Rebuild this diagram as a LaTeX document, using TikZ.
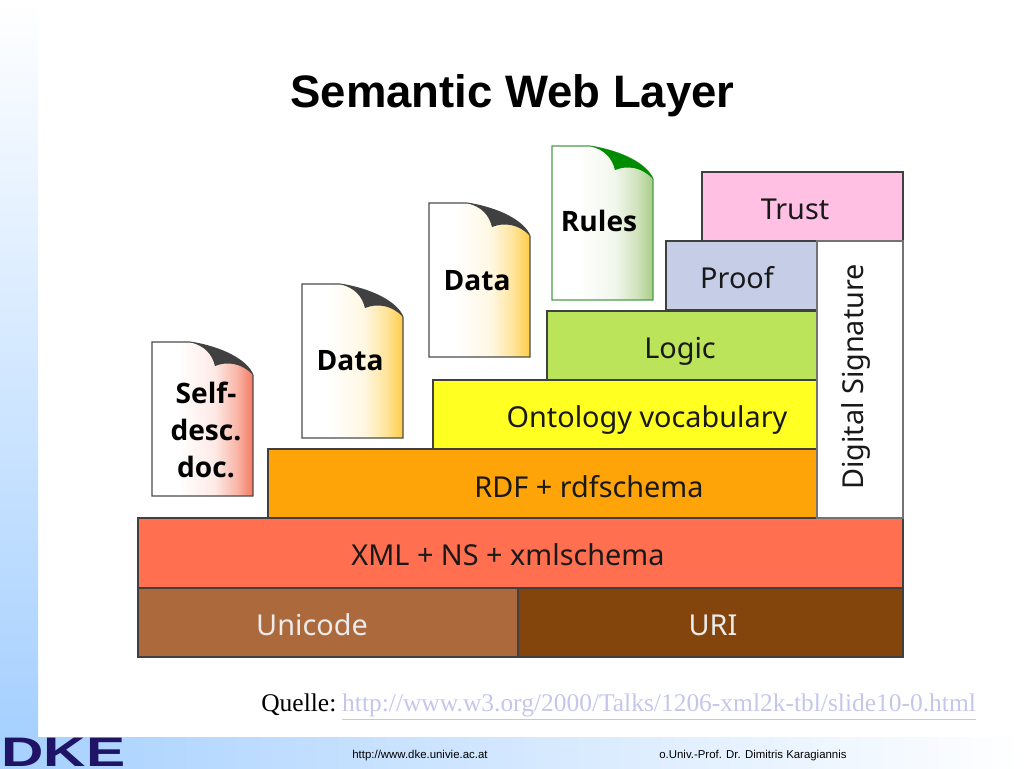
\documentclass[tikz,border=0pt]{standalone}
\usepackage{fontspec}
\usepackage{xcolor}
\usepackage{tikz}
\setmainfont{Liberation Serif}
\newfontfamily\headfont{Liberation Sans}
\newfontfamily\layerfont{Noto Sans}
\newfontfamily\docfont{Open Sans}
\usetikzlibrary{positioning}
\definecolor{stripblue}{HTML}{A6D0FF}
\definecolor{logonavy}{HTML}{1F1466}
\definecolor{linkgray}{HTML}{C6C6EC}
\definecolor{trustpink}{HTML}{FFC0E4}
\definecolor{proofblue}{HTML}{C5CEE6}
\definecolor{logicgreen}{HTML}{BBE45A}
\definecolor{ontoyellow}{HTML}{FFFF22}
\definecolor{rdforange}{HTML}{FFA408}
\definecolor{xmlred}{HTML}{FF6F50}
\definecolor{unibrown}{HTML}{AC6A3C}
\definecolor{uribrown}{HTML}{83450B}
\definecolor{selfred}{HTML}{F47A60}
\definecolor{datagold}{HTML}{FFCC44}
\definecolor{rulegreen}{HTML}{A9CC88}
\newcommand\docfade[1]{\pgfdeclarehorizontalshading{fade#1}{100bp}{color(0bp)=(white); color(38bp)=(white); color(56bp)=(#1!16); color(67bp)=(#1!55); color(75bp)=(#1); color(100bp)=(#1)}}
\docfade{selfred}
\docfade{datagold}
\docfade{rulegreen}
\tikzset{
  layerbox/.style={draw=black!75, line width=0.6pt},
  layertext/.style={font=\layerfont\fontsize{16.4}{20}\selectfont, text=black!90, inner sep=0pt, anchor=base},
  doctext/.style={font=\docfont\bfseries\fontsize{16}{21}\selectfont, align=center, inner sep=0pt},
  footertext/.style={font=\headfont\fontsize{6.5}{8}\selectfont, inner sep=0pt, anchor=west},
}
\begin{document}
\begin{tikzpicture}[x=0.02cm,y=-0.02cm]
\useasboundingbox (0,0) rectangle (1024,768);
\shade[top color=white, bottom color=stripblue] (0,0) rectangle (38,737);
\shade[left color=stripblue, right color=white] (0,737) rectangle (1024,768);
\node[font=\headfont\bfseries\fontsize{25.9}{30}\selectfont, inner sep=0pt] (title) at (512.5,96) {Semantic Web Layer};
% layers
\foreach \nam/\xa/\ya/\xb/\yb/\col/\lx/\ly/\lab in {
  trust/702/172/903/241/trustpink/795/219/Trust,
  proof/666/241/817/310/proofblue/737/288/Proof,
  logic/547/311/817/380/logicgreen/680/358/Logic,
  onto/433/380/817/449/ontoyellow/647/427/Ontology vocabulary,
  rdf/268/449/817/518/rdforange/589/497/RDF + rdfschema,
  xml/138/518/903/588/xmlred/508/565/XML + NS + xmlschema}{
  \filldraw[layerbox, fill=\col] (\xa,\ya) rectangle (\xb,\yb);
  \node[layertext] (\nam) at (\lx,\ly) {\lab};
}
\filldraw[layerbox, draw=black!55, fill=white] (817,241) rectangle (903,518);
\node[layertext, rotate=90] (sig) at (863,377) {Digital Signature};
\filldraw[layerbox, fill=unibrown] (138,588) rectangle (518,657);
\filldraw[layerbox, fill=uribrown] (518,588) rectangle (903,657);
\node[layertext, text=white!92!black] (unicode) at (312,635) {Unicode};
\node[layertext, text=white!92!black] (uri) at (713,635) {URI};
% documents
\foreach \nam/\x/\y/\col/\edgecol/\curlcol/\lx/\ly/\lab in {
  self/152/342/selfred/black!70/black!75/206/430/{Self-\\desc.\\doc.},
  dataa/302/284/datagold/black!70/black!75/350/361/Data,
  datab/429/203/datagold/black!70/black!75/477/281/Data,
  rules/552/146/rulegreen/green!45!black!70/green!55!black/599/221/Rules}{
  \begin{scope}[shift={(\x,\y)}]
    \shade[shading=fade\col]
      (0,0) -- (38,0) .. controls (70,5) and (95,18) .. (101,33) -- (101,154) -- (0,154) -- cycle;
    \draw[draw=\edgecol, line width=0.6pt]
      (0,0) -- (38,0) .. controls (70,5) and (95,18) .. (101,33) -- (101,154) -- (0,154) -- cycle;
    \fill[fill=\curlcol] (38,0) .. controls (53,4) and (60,12) .. (63,24)
      .. controls (75,19) and (90,21) .. (101,33) .. controls (95,18) and (70,5) .. cycle;
  \end{scope}
  \node[doctext] (\nam) at (\lx,\ly) {\lab};
}
% source line and footer
\node[font=\fontsize{14.5}{17}\selectfont, inner sep=0pt, anchor=base west] (source) at (261,711)
  {Quelle:\hspace{-1.5pt} \textcolor{linkgray}{\underline{http://www.w3.org/2000/Talks/1206-xml2k-tbl/slide10-0.html}}};
\node[footertext] (site) at (352,756) {http://www.dke.univie.ac.at};
\node[footertext] (prof) at (659,756) {o.Univ.-Prof. Dr. Dimitris Karagiannis};
\node[font=\headfont\bfseries\fontsize{23.5}{28}\selectfont, text=logonavy, inner sep=0pt, anchor=base west,
  transform shape, xscale=1.42] (logo) at (1,766.5) {DKE};
\end{tikzpicture}
\end{document}
